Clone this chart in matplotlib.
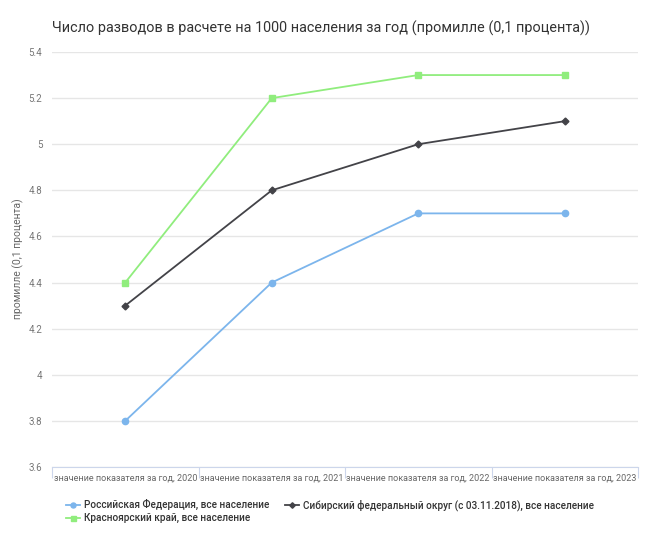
import numpy as np
import matplotlib.pyplot as plt

plt.rcParams['font.family'] = ['Roboto', 'DejaVu Sans']

years = ['2020', '2021', '2022', '2023']
cat_labels = ['значение показателя за год, ' + y for y in years]
rf = [3.8, 4.4, 4.7, 4.7]
sfo = [4.3, 4.8, 5.0, 5.1]
kk = [4.4, 5.2, 5.3, 5.3]
names = ['Российская Федерация, все население',
         'Сибирский федеральный округ (с 03.11.2018), все население',
         'Красноярский край, все население']
yticks = [3.6, 3.8, 4.0, 4.2, 4.4, 4.6, 4.8, 5.0, 5.2, 5.4]
ytick_labels = ['3.6', '3.8', '4', '4.2', '4.4', '4.6', '4.8', '5', '5.2', '5.4']

fig = plt.figure(figsize=(6.56, 5.5), dpi=100)
ax = fig.add_axes([52/656, 1-467/550, 586/656, 415/550])

x = np.arange(len(years))
l1, = ax.plot(x, rf, color='#7cb5ec', lw=1.3, marker='o', ms=4.5, label=names[0])
l2, = ax.plot(x, sfo, color='#434348', lw=1.3, marker='D', ms=3.5, label=names[1])
l3, = ax.plot(x, kk, color='#90ed7d', lw=1.3, marker='s', ms=4.5, label=names[2])

ax.set_xlim(-0.5, len(years) - 0.5)
ax.set_ylim(3.6, 5.4)
ax.set_yticks(yticks)
ax.set_yticklabels(ytick_labels)
ax.yaxis.grid(True, color='#e6e6e6', lw=1)
ax.set_axisbelow(True)
ax.tick_params(axis='y', length=0, labelsize=7, colors='#777777', pad=7)

ax.set_xticks(np.arange(-0.5, len(years), 1.0))
ax.set_xticklabels([])
ax.set_xticks(x, minor=True)
ax.set_xticklabels(cat_labels, minor=True)
ax.tick_params(axis='x', which='major', length=8, color='#ccd6eb', direction='out')
ax.tick_params(axis='x', which='minor', length=0, labelsize=6.5, colors='#666666', pad=5)

for s in ['top', 'right', 'left']:
    ax.spines[s].set_visible(False)
ax.spines['bottom'].set_color('#ccd6eb')

fig.text(18/656, 1-259/550, 'промилле (0,1 процента)', fontsize=7.5, color='#666666',
         rotation=90, ha='center', va='center')

fig.text(52/656, 1-28/550, 'Число разводов в расчете на 1000 населения за год (промилле (0,1 процента))',
         fontsize=10.4, color='#333333', va='center')

leg = fig.legend(handles=[l1, l3, l2], loc='upper left', bbox_to_anchor=(62/656, 1-495/550),
                 ncol=2, frameon=False, fontsize=7.2, handlelength=1.4, columnspacing=1.6,
                 labelspacing=0.3, handletextpad=0.4, markerscale=0.8, borderaxespad=0)
for t in leg.get_texts():
    t.set_color('#333333')
    t.set_fontweight('medium')

fig.savefig('out.png', dpi=100)
